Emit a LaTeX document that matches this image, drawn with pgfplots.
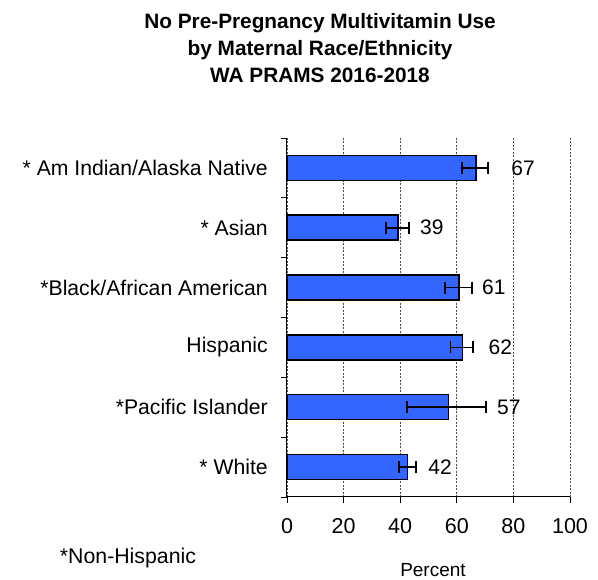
\documentclass[border=0pt]{standalone}
\usepackage{fontspec}
\setmainfont{Liberation Sans}
\usepackage{pgfplots}
\pgfplotsset{compat=1.18}
\usepackage{pgfplotstable}
\definecolor{barblue}{RGB}{51,102,255}

\pgfplotstableread{
y val ep em lx lab
1 66.7 4.4 5.0 83.4 67
2 39.3 3.8 4.3 51.2 39
3 60.8 4.7 5.0 73.1 61
4 62.1 3.7 4.3 75.4 62
5 57.1 13.2 14.7 78.4 57
6 42.5 3.1 3.0 54.1 42
}\datatab

\begin{document}
\begin{tikzpicture}
\useasboundingbox (-287pt,-83pt) rectangle (311pt,497pt);
\begin{axis}[
 at={(0,0)}, anchor=south west,
 scale only axis, width=283pt, height=359pt,
 xmin=0, xmax=100, ymin=0.5, ymax=6.5, y dir=reverse,
 axis x line*=bottom, axis y line*=left,
 axis line style={-, line width=1pt},
 xtick={0,20,...,100},
 ytick={1,...,6},
 yticklabels={* Am Indian/Alaska Native, * Asian, *Black/African American, Hispanic, *Pacific Islander, * White},
 minor ytick={0.5,1.5,...,6.5},
 tick align=outside,
 major tick length=6pt, minor tick length=6pt,
 major y tick style={draw=none},
 minor y tick style={draw=black, line width=0.8pt},
 major x tick style={draw=black, line width=0.8pt},
 xmajorgrids,
 grid style={dash pattern=on 2pt off 1.5pt, line width=0.6pt, black!70},
 /pgf/number format/assume math mode=true,
 xticklabel style={font=\fontsize{21.5}{22}\selectfont, yshift=-12pt},
 yticklabel style={font=\fontsize{21.2}{22}\selectfont, xshift=-9.7pt},
 clip=false,
]
\addplot[xbar, bar width=25pt, fill=barblue, draw=black, line width=1.5pt,
  error bars/.cd, x dir=both, x explicit, error mark=|,
  error bar style={line width=1.8pt, black},
  error mark options={mark size=6pt, line width=1.8pt, black}]
  table[x=val, y=y, x error plus=ep, x error minus=em]{\datatab};
\addplot[only marks, mark=none, nodes near coords, point meta=explicit symbolic,
  nodes near coords align=center,
  every node near coord/.append style={font=\fontsize{21}{22}\selectfont, black}]
  table[x=lx, y=y, meta=lab]{\datatab};
\end{axis}
\begin{scope}[every node/.style={anchor=base, inner sep=0pt, font=\bfseries\fontsize{20.8}{22}\selectfont}]
\node at (33pt,468.5pt) {No Pre-Pregnancy Multivitamin Use};
\node at (33pt,441.5pt) {by Maternal Race/Ethnicity};
\node at (33pt,414.5pt) {WA PRAMS 2016-2018};
\end{scope}
\node[anchor=base, inner sep=0pt, font=\fontsize{19}{20}\selectfont] at (146pt,-80pt) {Percent};
\node[anchor=base, inner sep=0pt, font=\fontsize{21.3}{22}\selectfont] at (-159pt,-67pt) {*Non-Hispanic};
\end{tikzpicture}
\end{document}
